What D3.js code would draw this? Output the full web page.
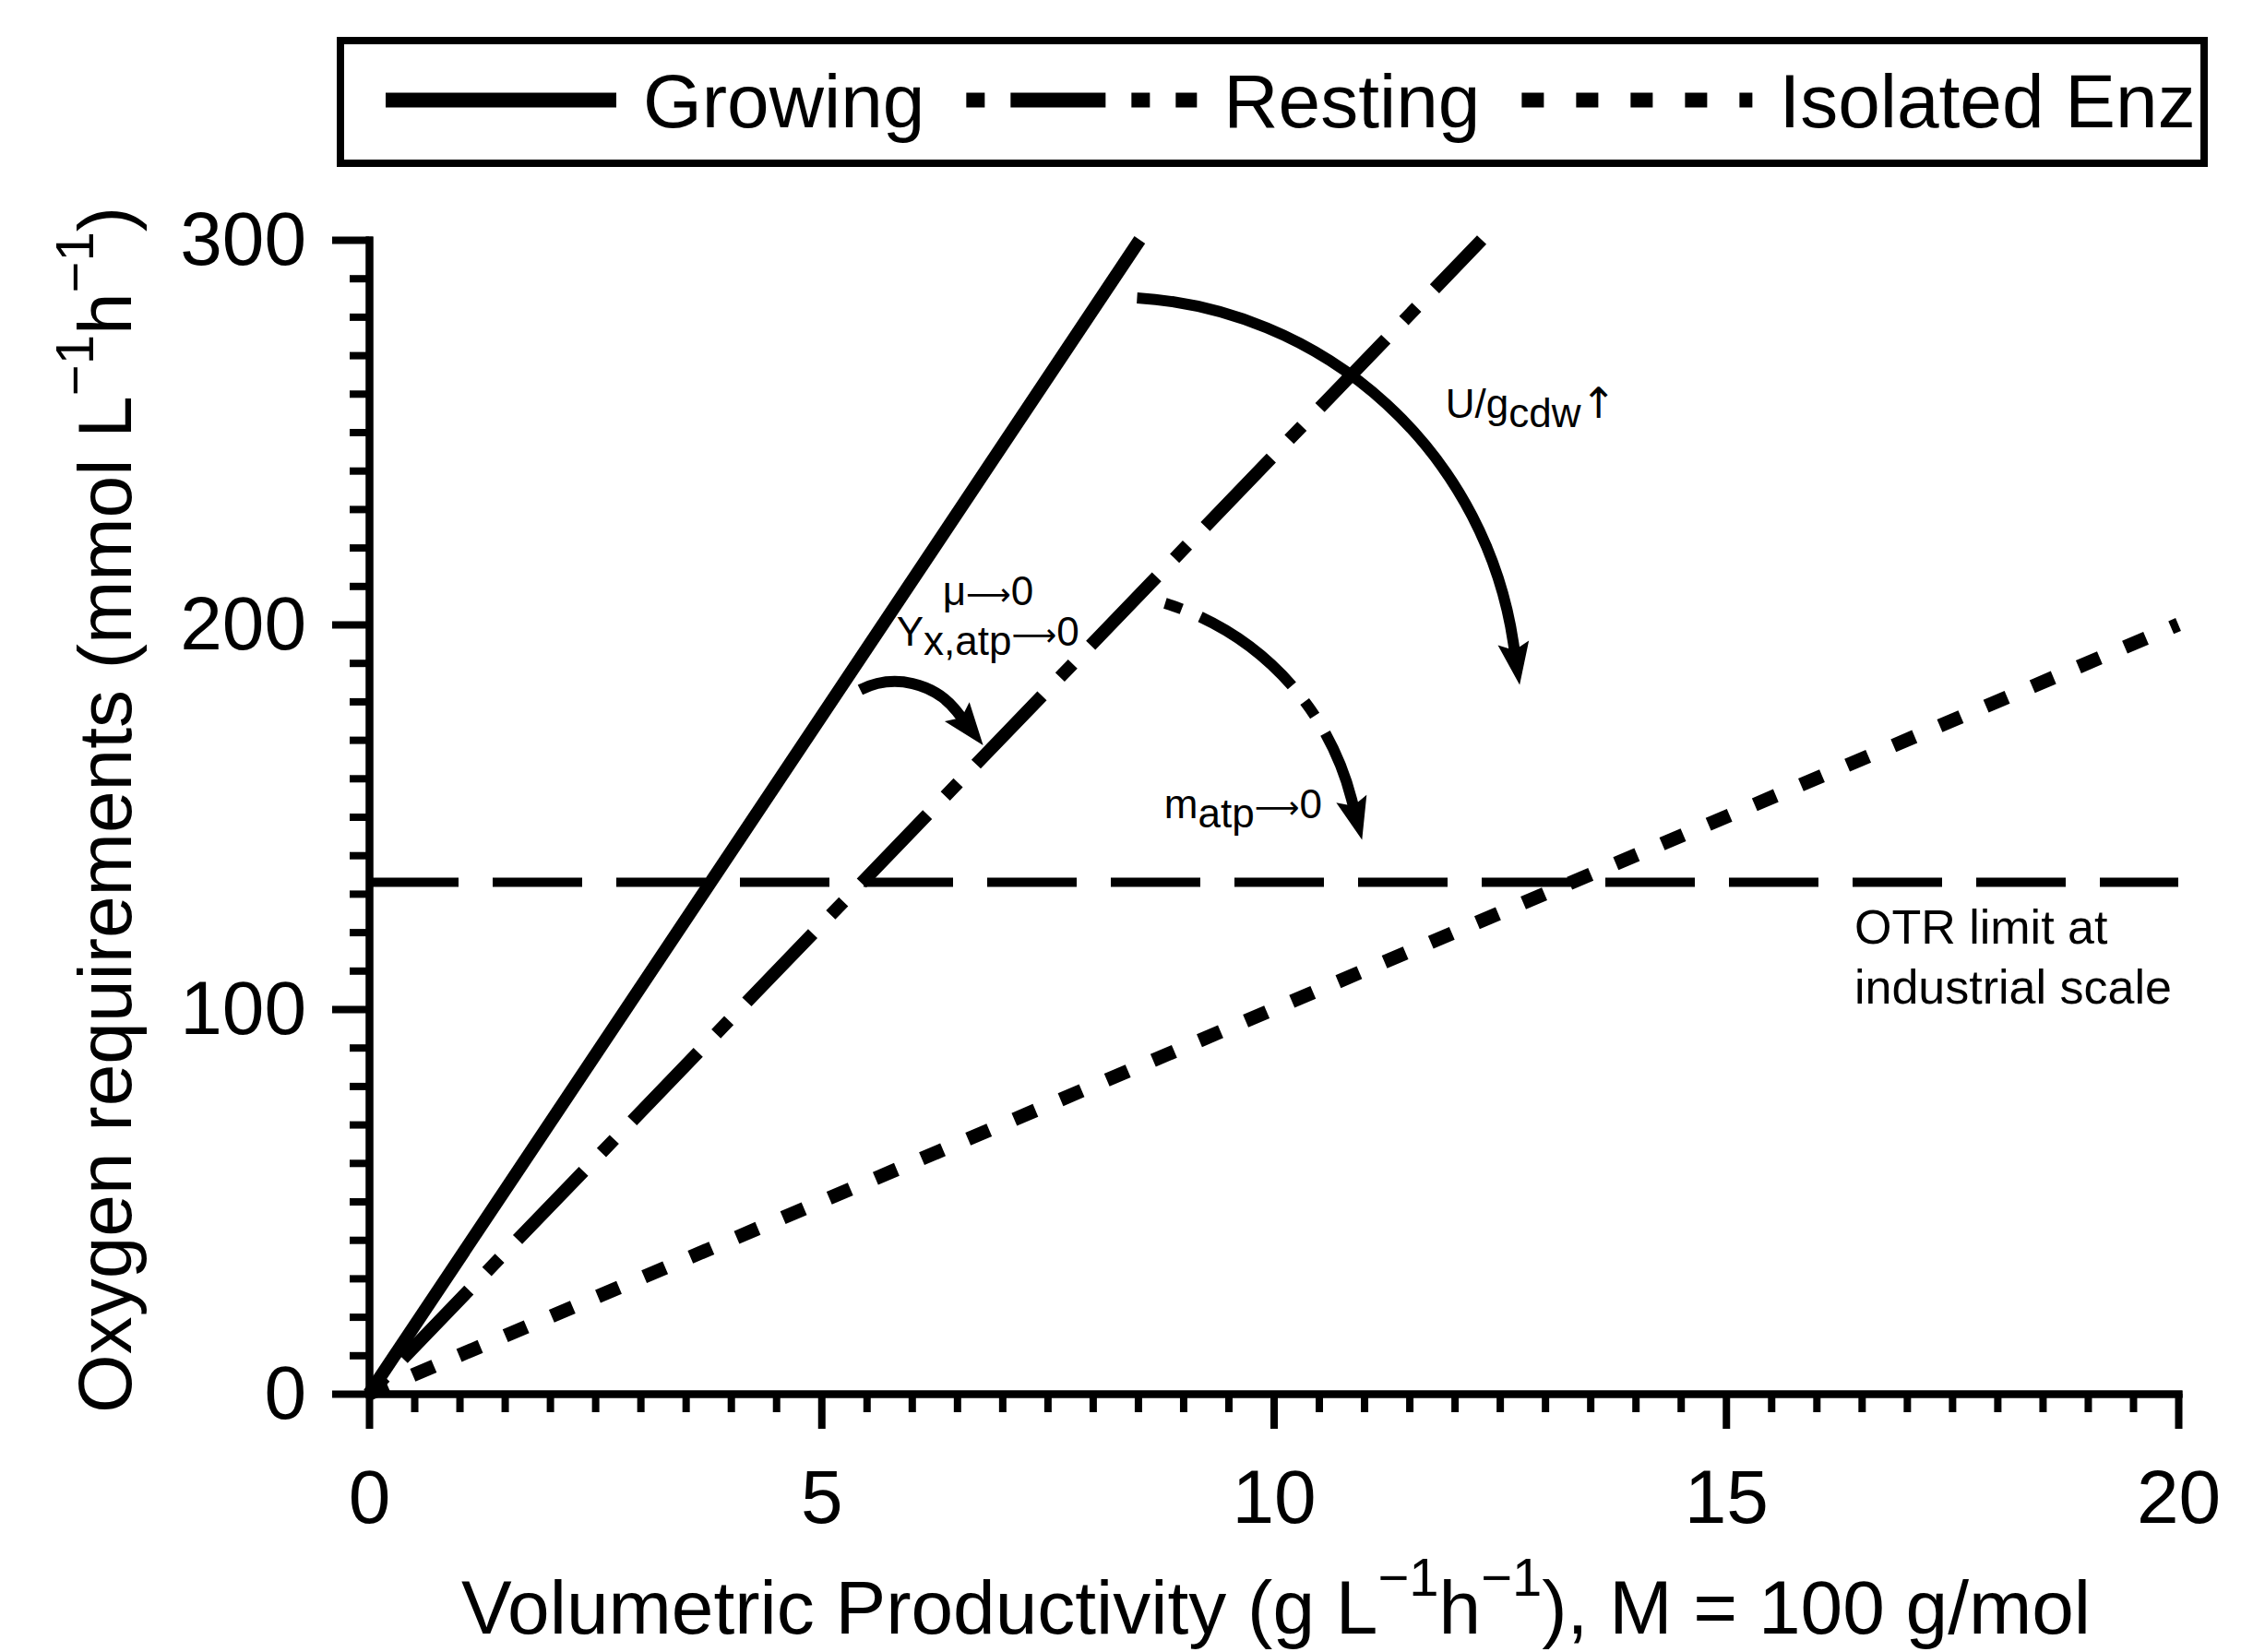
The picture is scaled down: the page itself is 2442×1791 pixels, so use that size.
<!DOCTYPE html>
<html><head><meta charset="utf-8">
<script src="https://cdn.jsdelivr.net/npm/d3@7"></script>
<style>body{margin:0;background:#fff}</style>
</head><body>
<svg id="c" width="2442" height="1791"></svg>
<script>
// ---------- data ----------
const seriesNames = ["Growing", "Resting", "Isolated Enz"];
const growingX = [0, 8.52],  growingY = [0, 300];
const restingX = [0, 12.3],  restingY = [0, 300];
const isolatedX = [0, 20],   isolatedY = [0, 200];
const otrX = [0, 20],        otrY = [133, 133];
const otrLabel = ["OTR limit at", "industrial scale"];
const xMajorTicks = [0, 5, 10, 15, 20];
const yMajorTicks = [0, 100, 200, 300];
const xMinorStep = 0.5, yMinorStep = 10;
const xTitle = ["Volumetric Productivity (g L", "−1", "h", "−1", "), M = 100 g/mol"];
const yTitle = ["Oxygen requirements (mmol L", "−1", "h", "−1", ")"];
// annotation arrows (data units): start point, end of shaft
const arrowStart = [[8.49, 284.9], [8.80, 205.5], [5.43, 183.0]];
const arrowEnd   = [[12.65, 195.2], [10.86, 154.7], [6.50, 177.3]];
// annotation labels: [main, subscript, symbol, tail], anchor (data units)
const annoText = [["μ", "", "⟶", "0"], ["Y", "x,atp", "⟶", "0"], ["U/g", "cdw", "↑", ""], ["m", "atp", "⟶", "0"]];
const annoPos  = [[6.34, 205.0], [5.83, 194.5], [11.90, 253.7], [8.79, 149.6]];
const otrLabelPos = [16.42, 117.0];

// ---------- setup ----------
const W = 2442, H = 1791;
const FONT = "'Liberation Sans', Arial, Helvetica, sans-serif";
const SYM = "'DejaVu Sans', sans-serif";
const svg = d3.select("#c");
svg.append("rect").attr("width", W).attr("height", H).attr("fill", "#fff");

const x = d3.scaleLinear().domain([0, 20]).range([400, 2361]);
const y = d3.scaleLinear().domain([0, 300]).range([1511, 260]);

// ---------- axes ----------
const xMinor = d3.range(0, 20 + 1e-9, xMinorStep).filter(v => !xMajorTicks.includes(v));
const yMinor = d3.range(0, 300 + 1e-9, yMinorStep).filter(v => !yMajorTicks.includes(v));

function styleAxis(g) {
  g.attr("font-family", FONT).attr("font-size", 82);
  g.selectAll(".domain").attr("stroke", "#000").attr("stroke-width", 8).attr("stroke-linecap", "square");
  g.selectAll(".tick line").attr("stroke", "#000").attr("stroke-width", 8);
  g.selectAll(".tick text").attr("fill", "#000").attr("font-family", FONT).attr("font-size", 82);
}
const gx = svg.append("g").attr("transform", `translate(0,${y(0)})`);
gx.append("g").call(d3.axisBottom(x).tickValues(xMinor).tickSize(20).tickSizeOuter(0).tickFormat(() => "")).call(styleAxis);
gx.append("g").call(d3.axisBottom(x).tickValues(xMajorTicks).tickSize(38).tickSizeOuter(0).tickPadding(44).tickFormat(d3.format("d"))).call(styleAxis);

const gy = svg.append("g").attr("transform", `translate(${x(0)},0)`);
gy.append("g").call(d3.axisLeft(y).tickValues(yMinor).tickSize(21).tickSizeOuter(0).tickFormat(() => "")).call(styleAxis);
gy.append("g").call(d3.axisLeft(y).tickValues(yMajorTicks).tickSize(40).tickSizeOuter(0).tickPadding(28).tickFormat(d3.format("d"))).call(styleAxis);

// ---------- series ----------
const line = d3.line().x(d => x(d[0])).y(d => y(d[1]));
const zip = (a, b) => a.map((v, i) => [v, b[i]]);

const styles = {
  "Growing":      {w: 14, dash: null, off: 0},
  "Resting":      {w: 14, dash: "103 28 20 28", off: 126},
  "Isolated Enz": {w: 15, dash: "25 29.5", off: 3}
};
const seriesData = {
  "Growing": zip(growingX, growingY),
  "Resting": zip(restingX, restingY),
  "Isolated Enz": zip(isolatedX, isolatedY)
};
seriesNames.forEach(n => {
  const s = styles[n];
  svg.append("path").attr("d", line(seriesData[n]))
    .attr("fill", "none").attr("stroke", "#000").attr("stroke-width", s.w)
    .attr("stroke-linecap", "butt")
    .attr("stroke-dasharray", s.dash).attr("stroke-dashoffset", s.off);
});

// OTR limit
svg.append("path").attr("d", line(zip(otrX, otrY)))
  .attr("fill", "none").attr("stroke", "#000").attr("stroke-width", 10)
  .attr("stroke-dasharray", "97 37");
const otrT = svg.append("text").attr("font-family", FONT).attr("font-size", 52).attr("fill", "#000");
otrLabel.forEach((t, i) => otrT.append("tspan").attr("x", x(otrLabelPos[0])).attr("y", y(otrLabelPos[1]) + i * 65).text(t));

// ---------- annotation arrows ----------
const arrowRadius = [440, 300, 85];
const arrowDash = [null, "19 22 125 22", null];
function drawArrow(S, B, r, dash) {
  const [sx, sy] = S, [bx, by] = B;
  const dx = bx - sx, dy = by - sy, d = Math.hypot(dx, dy);
  const ux = dx / d, uy = dy / d;
  const h = Math.sqrt(Math.max(r * r - d * d / 4, 0));
  const cx = (sx + bx) / 2 - uy * h, cy = (sy + by) / 2 + ux * h;
  const rx = bx - cx, ry = by - cy, rl = Math.hypot(rx, ry);
  const tx = -ry / rl, ty = rx / rl;
  const nx = -ty, ny = tx;
  const L = 46, hw = 17, notch = 8;
  svg.append("path")
    .attr("d", `M${sx},${sy}A${r},${r} 0 0 1 ${bx},${by}L${bx + tx * 12},${by + ty * 12}`)
    .attr("fill", "none").attr("stroke", "#000").attr("stroke-width", 12)
    .attr("stroke-dasharray", dash);
  const pts = [[bx + tx * L, by + ty * L], [bx + nx * hw, by + ny * hw], [bx + tx * notch, by + ty * notch], [bx - nx * hw, by - ny * hw]];
  svg.append("path").attr("d", "M" + pts.map(p => p.join(",")).join("L") + "Z").attr("fill", "#000");
}
arrowStart.forEach((s, i) => {
  drawArrow([x(s[0]), y(s[1])], [x(arrowEnd[i][0]), y(arrowEnd[i][1])], arrowRadius[i], arrowDash[i]);
});

// ---------- annotation labels ----------
annoText.forEach((parts, i) => {
  const t = svg.append("text").attr("font-family", FONT).attr("font-size", 44).attr("fill", "#000")
    .attr("x", x(annoPos[i][0])).attr("y", y(annoPos[i][1]));
  t.append("tspan").text(parts[0]);
  let shift = 0;
  if (parts[1]) { t.append("tspan").attr("dy", 10).text(parts[1]); shift = 10; }
  if (parts[2]) {
    const isLong = parts[2] === "⟶";
    t.append("tspan").attr("dy", -shift).attr("font-family", SYM)
      .attr("font-size", isLong ? 34 : 46).text(parts[2]);
    shift = 0;
  }
  if (parts[3]) t.append("tspan").attr("dy", -shift).text(parts[3]);
});

// ---------- axis titles ----------
function titleText(sel, parts) {
  parts.forEach((p, i) => {
    const sup = i % 2 === 1;
    const ts = sel.append("tspan").text(p);
    if (sup) ts.attr("font-size", 58).attr("dy", -41);
    else if (i > 0) ts.attr("dy", 41);
  });
}
const xt = svg.append("text").attr("font-family", FONT).attr("font-size", 82).attr("fill", "#000")
  .attr("text-anchor", "middle").attr("x", 1383).attr("y", 1771);
titleText(xt, xTitle);
const yt = svg.append("text").attr("font-family", FONT).attr("font-size", 82).attr("fill", "#000")
  .attr("text-anchor", "middle").attr("transform", "translate(142,878) rotate(-90)");
titleText(yt, yTitle);

// ---------- legend ----------
const lg = svg.append("g");
lg.append("rect").attr("x", 369).attr("y", 44).attr("width", 2020).attr("height", 133)
  .attr("fill", "#fff").attr("stroke", "#000").attr("stroke-width", 8);
const legendDash = {"Growing": [null, 0], "Resting": ["103 28 20 28", 131], "Isolated Enz": ["24 35", 0]};
let lx = 418;
const ly = 108.5, lineLen = 250;
seriesNames.forEach(n => {
  lg.append("line").attr("x1", lx).attr("x2", lx + lineLen).attr("y1", ly).attr("y2", ly)
    .attr("stroke", "#000").attr("stroke-width", 16)
    .attr("stroke-dasharray", legendDash[n][0]).attr("stroke-dashoffset", legendDash[n][1]);
  const t = lg.append("text").attr("x", lx + lineLen + 29).attr("y", 138)
    .attr("font-family", FONT).attr("font-size", 82).attr("fill", "#000").text(n);
  lx = lx + lineLen + 29 + t.node().getComputedTextLength() + 45;
});
</script>
</body></html>
